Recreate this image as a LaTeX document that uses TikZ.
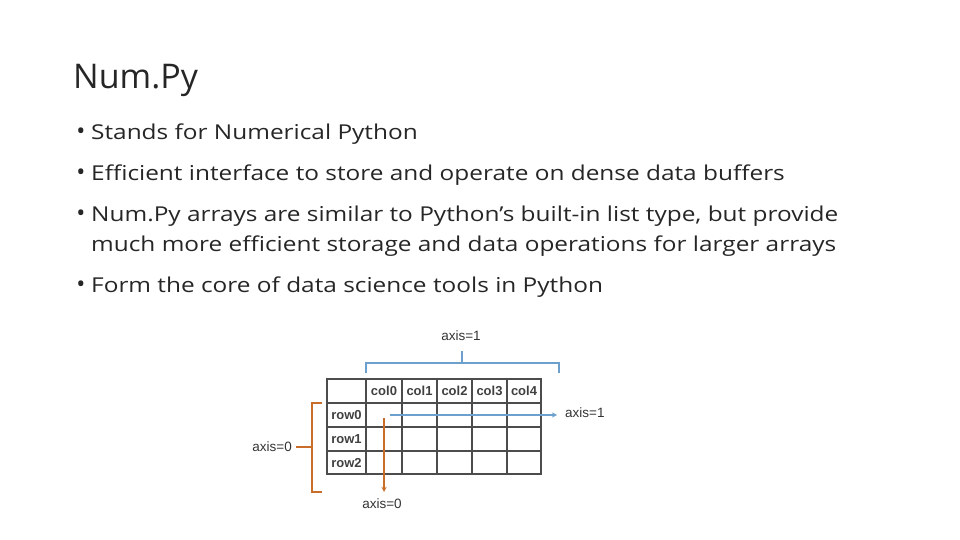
\documentclass[tikz,border=0pt]{standalone}
\usepackage{fontspec}
\setmainfont{Open Sans}
\newfontfamily\arialf{Liberation Sans}
\definecolor{bl}{RGB}{110,160,205}
\definecolor{or}{RGB}{200,110,40}
\begin{document}
\begin{tikzpicture}[x=1pt,y=-1pt,
  bul/.style={anchor=west,inner sep=0,font=\fontsize{20.5}{24}\selectfont\addfontfeatures{FakeStretch=1.19},text=black!85},
  dot/.style={anchor=center,inner sep=0,font=\fontsize{24}{28}\selectfont,text=black!85},
  cell/.style={font=\arialf\bfseries\fontsize{13}{15}\selectfont\color{black!75},inner sep=0},
  lab/.style={font=\arialf\fontsize{13.5}{15}\selectfont\color{black!80},inner sep=0},
  grid/.style={draw=black!70,line width=1.2pt},
  blu/.style={draw=bl,color=bl,line width=1.3pt},
  org/.style={draw=or,color=or,line width=1.3pt}]
\useasboundingbox (0,0) rectangle (960,540);
\node[anchor=west,inner sep=0,font=\fontsize{34}{40}\selectfont,text=black!85] (title) at (73,80) {Num.Py};
\foreach \y in {134,175,216,287} \node[dot] at (81,\y) {•};
\node[bul] (b1) at (91,134) {Stands for Numerical Python};
\node[bul] (b2) at (91,175) {Efficient interface to store and operate on dense data buffers};
\node[bul] (b3) at (91,216) {Num.Py arrays are similar to Python’s built-in list type, but provide};
\node[bul] (b3b) at (91,246) {much more efficient storage and data operations for larger arrays};
\node[bul] (b4) at (91,287) {Form the core of data science tools in Python};
% grid
\draw[grid] (327,379) rectangle (541,474);
\foreach \x in {366,402,437,472,507} \draw[grid] (\x,379) -- (\x,474);
\foreach \y in {403,427,451} \draw[grid] (327,\y) -- (541,\y);
\foreach \n/\x in {0/384,1/419.5,2/454.5,3/489.5,4/524} \node[cell] (c\n) at (\x,391) {col\n};
\foreach \n/\y in {0/415,1/439,2/463} \node[cell] (r\n) at (346.5,\y) {row\n};
% blue
\node[lab] (a1t) at (461,336) {axis=1};
\draw[blu] (366,373) -- (366,363) -- (559,363) -- (559,373);
\coordinate (bs) at (462,363);
\draw[blu] (bs) -- (462,351);
\coordinate (ba) at (390,415);
\node[lab,anchor=west] (a1r) at (565,413) {axis=1};
\draw[blu,-stealth] (ba) -- (557,415);
% orange
\node[lab,anchor=east] (a0l) at (292,447) {axis=0};
\draw[org] (322,403) -- (312,403) -- (312,492) -- (322,492);
\draw[org] (a0l.east)+(4,0) -- (312,447);
\node[lab] (a0b) at (382,504) {axis=0};
\coordinate (oa) at (384,418);
\draw[org,-stealth] (oa) -- (384,492);
\end{tikzpicture}
\end{document}
